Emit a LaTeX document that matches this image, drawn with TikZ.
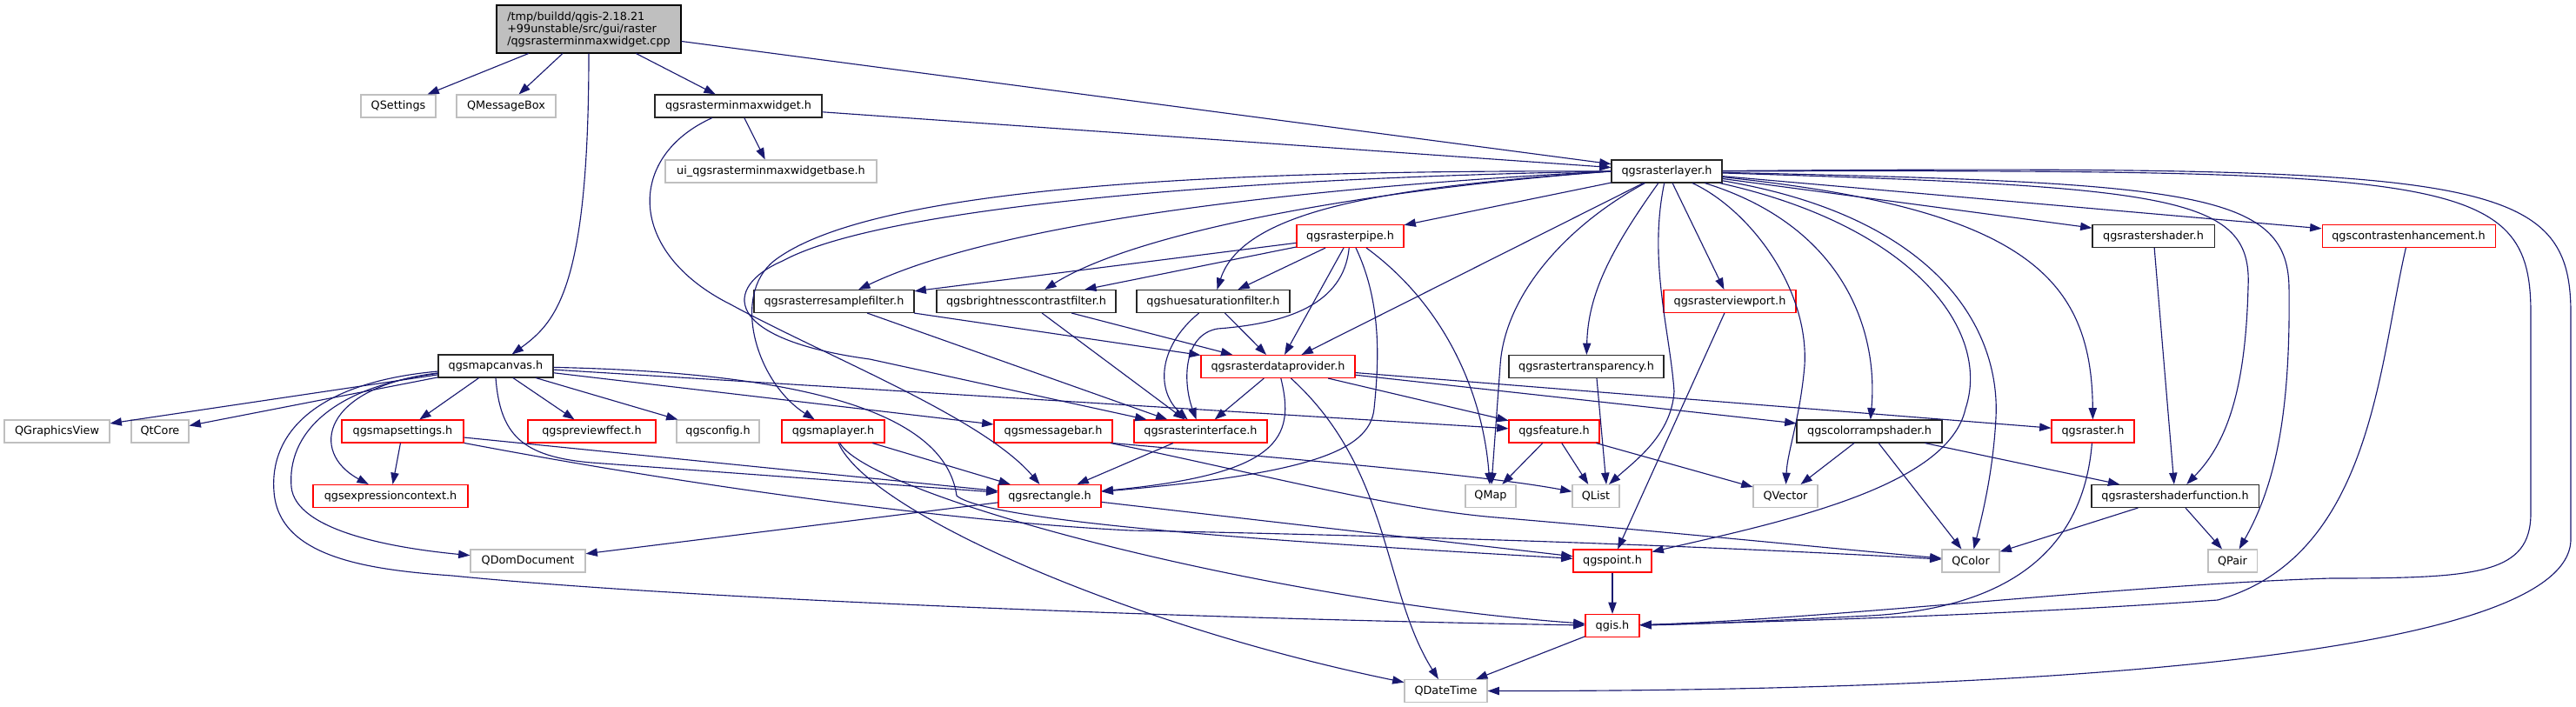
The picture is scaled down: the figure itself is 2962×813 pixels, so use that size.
\documentclass[tikz,border=0pt]{standalone}
\usepackage{fontspec}
\setmainfont{DejaVu Sans}
\usetikzlibrary{arrows.meta}
\definecolor{edgeblue}{HTML}{191970}
\definecolor{extgray}{HTML}{BFBFBF}
\begin{document}
\begin{tikzpicture}[x=0.75pt,y=-0.75pt,
  box/.style={draw,line width=0.8pt,minimum height=19.5pt,inner sep=1pt,font=\fontsize{9.6}{11}\selectfont},
  ext/.style={box,draw=extgray},
  doc/.style={box,draw=black!85},
  trunc/.style={box,draw=red},
  dep/.style={draw=edgeblue,line width=0.85pt,-{Triangle[length=10pt,width=7pt]}}]
\useasboundingbox (0,0) rectangle (2962,813);
\node[box,fill=extgray,draw=black,minimum width=159pt,minimum height=41.25pt,align=left,font=\fontsize{9.6}{10.5}\selectfont] (main) at (677,33.5) {/tmp/buildd/qgis-2.18.21\\+99unstable/src/gui/raster\\/qgsrasterminmaxwidget.cpp};
\foreach \n/\x/\y/\w/\t in {qsettings/458/122/86/QSettings,qmsgbox/582/122/114/QMessageBox,uibase/886.5/197/243/ui\_qgsrasterminmaxwidgetbase.h,qgview/65.5/496/121/QGraphicsView,qtcore/184/496/66/QtCore,config/825.5/496/95/qgsconfig.h,qmap/1714/570.5/58/QMap,qlist/1835/570.5/54/QList,qvector/2053/570.5/74/QVector,qdomdoc/607/645/132/QDomDocument,qcolor/2266/645/66/QColor,qpair/2567/645/56/QPair,qdatetime/1662.5/794.5/95/QDateTime}
  \node[ext,minimum width=\w*0.75pt] (\n) at (\x,\y) {\t};
\foreach \n/\x/\y/\w/\t in {minmax/849/122/192/qgsrasterminmaxwidget.h,rlayer/1916.5/197/127/qgsrasterlayer.h,rshader/2476/271.5/140/qgsrastershader.h,resample/959/346.5/184/qgsrasterresamplefilter.h,brightness/1180/346.5/206/qgsbrightnesscontrastfilter.h,huesat/1395/346.5/176/qgshuesaturationfilter.h,mcanvas/570/421/132/qgsmapcanvas.h,transp/1824/421.5/178/qgsrastertransparency.h,cramp/2149.5/496/167/qgscolorrampshader.h,shfunc/2501/570.5/192/qgsrastershaderfunction.h}
  \node[doc,minimum width=\w*0.75pt] (\n) at (\x,\y) {\t};
\foreach \n/\x/\y/\w/\t in {rpipe/1552.5/271.5/123/qgsrasterpipe.h,contrast/2769.5/271.5/199/qgscontrastenhancement.h,viewport/1989/346.5/152/qgsrasterviewport.h,dprovider/1469.5/421.5/177/qgsrasterdataprovider.h,msettings/463/496/140/qgsmapsettings.h,preview/680.5/496/147/qgspreviewffect.h,mlayer/958/496/118/qgsmaplayer.h,msgbar/1211/496/136/qgsmessagebar.h,rinterface/1380.5/496/153/qgsrasterinterface.h,feature/1787/496/104/qgsfeature.h,raster/2406.5/496/95/qgsraster.h,exprctx/449/570.5/178/qgsexpressioncontext.h,rect/1207/570.5/118/qgsrectangle.h,point/1854/645/90/qgspoint.h,qgis/1854/719.5/62/qgis.h}
  \node[trunc,minimum width=\w*0.75pt] (\n) at (\x,\y) {\t};
\foreach \a/\b in {main/qsettings,main/qmsgbox,main/minmax,main/rlayer,minmax/uibase,minmax/rlayer,mcanvas/qgview,mcanvas/qtcore,mcanvas/msettings,mcanvas/preview,mcanvas/config,mcanvas/feature,mcanvas/msgbar,msettings/exprctx,msettings/rect,mlayer/rect,rlayer/rpipe,rlayer/dprovider,rlayer/viewport,rlayer/rshader,rlayer/contrast,rpipe/resample,rpipe/brightness,rpipe/huesat,rpipe/dprovider,resample/dprovider,resample/rinterface,brightness/dprovider,brightness/rinterface,huesat/dprovider,dprovider/rinterface,dprovider/feature,dprovider/cramp,dprovider/raster,rinterface/rect,feature/qmap,feature/qlist,feature/qvector,viewport/point,rshader/shfunc,cramp/qvector,cramp/qcolor,cramp/shfunc,shfunc/qcolor,shfunc/qpair,rect/qdomdoc,rect/point,point/qgis,qgis/qdatetime}
  \draw[dep] (\a) -- (\b);
\draw[dep] (main.south) .. controls (677,330) and (640,370) .. (mcanvas);
\draw[dep] (minmax) .. controls (720,180) and (720,290) .. (840,350) .. controls (950,410) and (1130,480) .. (rect);
\draw[dep] (mcanvas) .. controls (370,445) and (355,520) .. (exprctx);
\draw[dep] (mcanvas) .. controls (380,445) and (330,500) .. (335,560) .. controls (340,610) and (450,630) .. (qdomdoc);
\draw[dep] (mcanvas) .. controls (360,440) and (310,500) .. (315,565) .. controls (320,640) and (420,655) .. (520,662) .. controls (800,690) and (1400,712) .. (qgis);
\draw[dep] (mcanvas.south) .. controls (575,500) and (600,525) .. (680,532) -- (rect);
\draw[dep] (mcanvas) .. controls (1000,430) and (1090,500) .. (1100,570) .. controls (1140,605) and (1600,630) .. (point);
\draw[dep] (msettings) .. controls (800,560) and (1100,600) .. (1300,610) .. controls (1700,618) and (2000,630) .. (qcolor);
\draw[dep] (mlayer) .. controls (1000,570) and (1450,690) .. (qgis);
\draw[dep] (mlayer) .. controls (1000,590) and (1300,720) .. (qdatetime);
\draw[dep] (msgbar) .. controls (1450,545) and (1600,585) .. (1720,595) .. controls (1900,610) and (2100,630) .. (qcolor);
\draw[dep] (msgbar.south east) .. controls (1450,525) and (1700,545) .. (qlist);
\draw[dep] (rpipe) .. controls (1545,350) and (1480,372) .. (1400,378) .. controls (1360,385) and (1360,440) .. (rinterface);
\draw[dep] (rpipe) .. controls (1590,350) and (1585,420) .. (1580,470) .. controls (1575,520) and (1500,545) .. (rect);
\draw[dep] (rpipe) .. controls (1660,350) and (1705,450) .. (qmap);
\draw[dep] (dprovider) .. controls (1490,505) and (1470,545) .. (rect);
\draw[dep] (dprovider) .. controls (1600,540) and (1590,680) .. (qdatetime);
\draw[dep] (huesat) .. controls (1330,400) and (1330,450) .. (rinterface);
\draw[dep] ([xshift=9pt]transp.south) -- ([xshift=9pt]qlist.north);
\draw[dep] (rlayer.west) .. controls (1500,215) and (1150,255) .. (resample);
\draw[dep] (rlayer.west) .. controls (1550,220) and (1300,270) .. (brightness);
\draw[dep] (rlayer.west) .. controls (1600,215) and (1430,240) .. (huesat);
\draw[dep] (rlayer.west) .. controls (1400,195) and (1000,215) .. (890,300) .. controls (840,340) and (870,440) .. (mlayer);
\draw[dep] (rlayer.west) .. controls (1400,205) and (1010,240) .. (900,300) .. controls (830,330) and (830,390) .. (1000,413) -- (rinterface);
\draw[dep] (rlayer) .. controls (1850,290) and (1826,340) .. (transp);
\draw[dep] (rlayer) .. controls (1800,260) and (1730,340) .. (1725,420) -- (qmap);
\draw[dep] (rlayer) .. controls (1895,300) and (1920,380) .. (1925,450) .. controls (1922,500) and (1880,530) .. (qlist);
\draw[dep] (rlayer) .. controls (2120,260) and (2160,380) .. (cramp);
\draw[dep] (rlayer) .. controls (2010,240) and (2080,330) .. (2075,420) .. controls (2070,480) and (2055,520) .. (qvector);
\draw[dep] (rlayer) .. controls (2200,260) and (2290,380) .. (2260,470) .. controls (2240,560) and (2050,600) .. (point);
\draw[dep] (rlayer) .. controls (2230,250) and (2300,380) .. (2295,480) .. controls (2292,540) and (2280,590) .. (qcolor);
\draw[dep] (rlayer) .. controls (2330,240) and (2405,320) .. (raster);
\draw[dep] (rlayer) .. controls (2500,215) and (2590,225) .. (2585,330) .. controls (2582,450) and (2560,510) .. (shfunc);
\draw[dep] (rlayer) .. controls (2520,210) and (2630,220) .. (2632,330) .. controls (2634,480) and (2615,560) .. (qpair);
\draw[dep] (rlayer) .. controls (2820,195) and (2910,200) .. (2910,360) -- (2910,590) .. controls (2910,660) and (2850,665) .. (2680,665) .. controls (2450,672) and (2100,712) .. (qgis);
\draw[dep] (rlayer) .. controls (2850,190) and (2956,200) .. (2956,360) -- (2956,620) .. controls (2956,760) and (2300,795) .. (qdatetime);
\draw[dep] (contrast) .. controls (2735,420) and (2727,640) .. (2550,690) .. controls (2300,708) and (2000,716) .. (qgis);
\draw[dep] (raster) .. controls (2395,640) and (2300,700) .. (2150,708) .. controls (2050,713) and (1950,718) .. (qgis);
\end{tikzpicture}
\end{document}
